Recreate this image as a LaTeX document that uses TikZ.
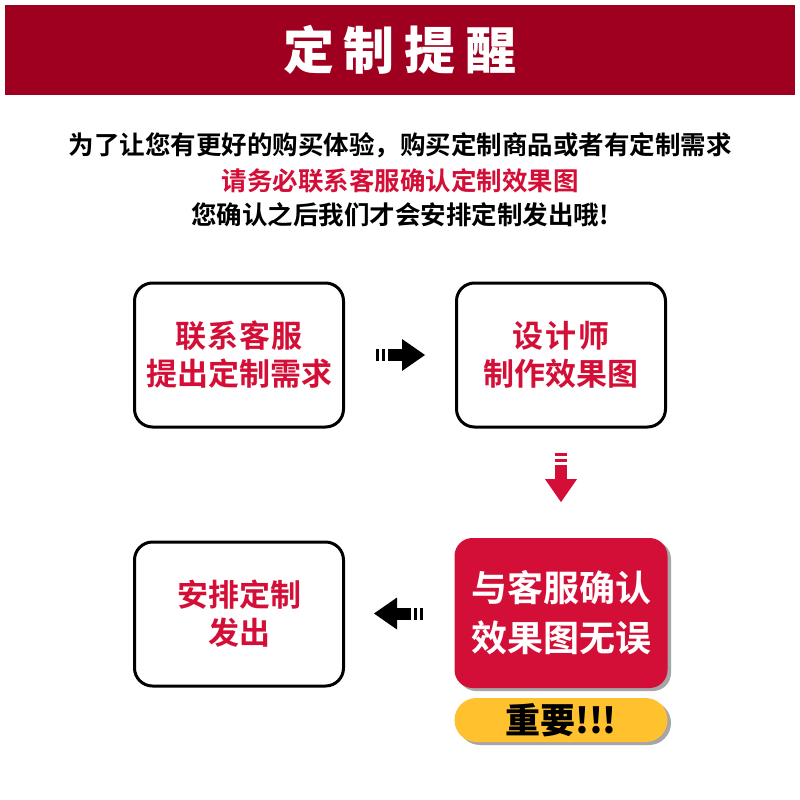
\documentclass[tikz,border=0pt]{standalone}
\usepackage{fontspec}
\newfontfamily\cjk{Noto Sans CJK SC Bold}
\newfontfamily\cjkk{Noto Sans CJK SC Black}
\usetikzlibrary{calc}
\definecolor{band}{HTML}{A00020}
\definecolor{hot}{HTML}{D40F37}
\definecolor{gold}{HTML}{FFC12E}
\tikzset{
  box/.style={draw=black,line width=3pt,rounded corners=18pt,fill=white,minimum width=209pt,minimum height=144pt,align=center,font=\cjk\fontsize{31}{38}\selectfont,text=hot},
  line/.style={font=\cjk\fontsize{25.5}{28}\selectfont}
}
\newcommand{\fatarrow}{%
  \fill (-24,-6) rectangle (-21,6);
  \fill (-18,-6) rectangle (-15,6);
  \fill (-12,-6) rectangle (3,6);
  \fill (2,-16) -- (25,0) -- (2,16) -- cycle;}
\begin{document}
\begin{tikzpicture}[x=1pt,y=-1pt]
\useasboundingbox (0,0) rectangle (800,800);
\fill[white] (0,0) rectangle (800,800);
\fill[band] (5,5) rectangle (795,95);
\node[text=white,font=\cjkk\fontsize{51}{55}\selectfont] (title) at (400,50) {定\hspace{10pt}制\hspace{10pt}提\hspace{10pt}醒};
\node[line] (l1) at (400,145) {为了让您有更好的购买体验，购买定制商品或者有定制需求};
\node[line,text=hot] (l2) at (400,181) {请务必联系客服确认定制效果图};
\node[line] (l3) at (400,215) {您确认之后我们才会安排定制发出哦!};
\node[box] (b1) at (239,355) {联\hspace{1pt}系\hspace{1pt}客\hspace{1pt}服\\提出定制需求};
\node[box] (b2) at (561,355) {设\hspace{2pt}计\hspace{2pt}师\\制作效果图};
\node[box] (b3) at (239,614) {安排定制\\发出};
\fill[black!35,rounded corners=18pt] (458,541) rectangle (671,691);
\node[box,draw=none,fill=hot,text=white,minimum width=213pt,minimum height=150pt,font=\cjk\fontsize{36}{50}\selectfont] (b4) at (561,613) {与客服确认\\效果图无误};
\fill[black!35,rounded corners=22pt] (458,701) rectangle (671,745);
\node[fill=gold,rounded corners=22pt,minimum width=213pt,minimum height=44pt,font=\cjkk\fontsize{35}{38}\selectfont] (badge) at (561,720) {重要!!!};
\begin{scope}[shift={($(b1.east)!0.5!(b2.west)$)}]\fatarrow\end{scope}
\begin{scope}[shift={($(b2.south)!0.45!(b4.north)$)},rotate=-90,hot]\fatarrow\end{scope}
\begin{scope}[shift={($(b3.east)!0.5!(b4.west)$)},rotate=180]\fatarrow\end{scope}
\end{tikzpicture}
\end{document}
